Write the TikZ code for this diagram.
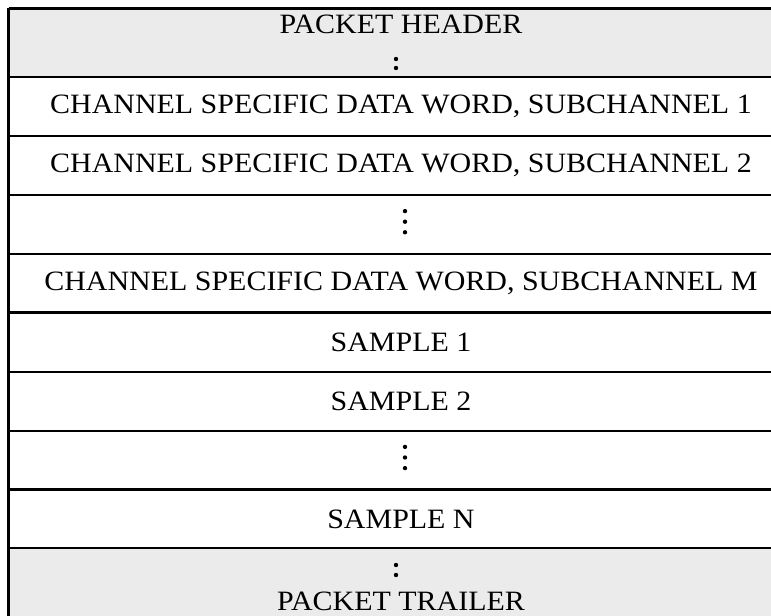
\documentclass[tikz,border=0pt]{standalone}
\usepackage{fontspec}
\setmainfont[FakeStretch=1.07]{Liberation Serif}
\definecolor{hdrgray}{HTML}{EBEBEB}
\begin{document}
\begin{tikzpicture}[x=0.75pt,y=-0.75pt,
  rule/.style={line width=1.6pt,black},
  lbl/.style={font=\fontsize{21}{23}\selectfont,inner sep=0pt,anchor=center},
  dotf/.style={fill=black,draw=none}]
\useasboundingbox (0,0) rectangle (771,616);
\clip (0,0) rectangle (771,616);
% gray header and trailer
\fill[hdrgray] (8.5,8.5) rectangle (791,76.7);
\fill[hdrgray] (8.5,548) rectangle (791,630);
% row rules
\foreach \yy in {8.5,76.7,136,195,254,312.5,372,431,489.5,548}
  \draw[rule] (8.5,\yy) -- (795,\yy);
\draw[rule] (8.5,7.8) -- (8.5,630);
% texts
\node[lbl] (hdr) at (401,24) {PACKET HEADER};
\node[lbl] (r1) at (401,106.5) {CHANNEL SPECIFIC DATA WORD, SUBCHANNEL 1};
\node[lbl] (r2) at (401,165.5) {CHANNEL SPECIFIC DATA WORD, SUBCHANNEL 2};
\node[lbl] (rm) at (401,283.5) {CHANNEL SPECIFIC DATA WORD, SUBCHANNEL M};
\node[lbl] (s1) at (401,342) {SAMPLE 1};
\node[lbl] (s2) at (401,401.5) {SAMPLE 2};
\node[lbl] (sn) at (401,519) {SAMPLE N};
\node[lbl] (trl) at (401,601) {PACKET TRAILER};
% colons
\fill[dotf] (396,59) circle (2.2) (396,68) circle (2.2);
\fill[dotf] (396,565) circle (2.2) (396,575) circle (2.2);
% vertical ellipses
\foreach \cy in {221.7,457.5}
  \fill[dotf] (405,\cy-10.6) circle (2.2) (405,\cy) circle (2.2) (405,\cy+10.6) circle (2.2);
\end{tikzpicture}
\end{document}
